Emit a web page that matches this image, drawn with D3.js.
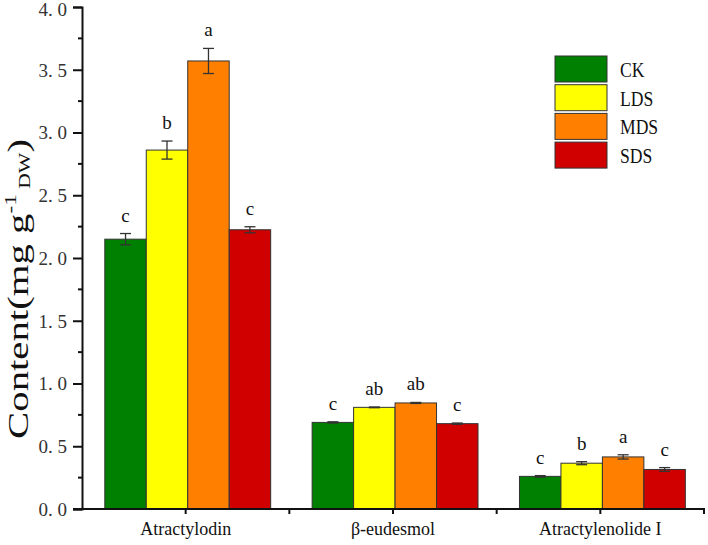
<!DOCTYPE html>
<html lang="en">
<head>
<meta charset="UTF-8">
<title>Content by treatment</title>
<script src="https://d3js.org/d3.v7.min.js"></script>
<style>
    body { margin: 0; padding: 0; background: #fff; }
    svg { display: block; }
    .tick-label { font-family: "Liberation Serif", serif; font-size: 19px; fill: #333; }
    .cat-label { font-family: "Liberation Serif", serif; font-size: 18px; fill: #111; }
    .sig { font-family: "Liberation Serif", serif; font-size: 19px; fill: #111; }
    .legend-text { font-family: "Liberation Serif", serif; font-size: 22px; fill: #111; }
    .y-title { font-family: "Liberation Serif", serif; font-size: 30px; fill: #111; }
</style>
</head>
<body>
<script>
    // data
    const categories = ["Atractylodin", "β-eudesmol", "Atractylenolide I"];
    const treatments = ["CK", "LDS", "MDS", "SDS"];
    const colors = ["#008000", "#ffff00", "#ff8000", "#d00000"];

    const CK = [2.15, 0.69, 0.26];
    const LDS = [2.86, 0.81, 0.365];
    const MDS = [3.57, 0.845, 0.415];
    const SDS = [2.225, 0.68, 0.315];

    const CKerr = [0.045, 0.005, 0.006];
    const LDSerr = [0.072, 0.003, 0.012];
    const MDSerr = [0.1, 0.004, 0.017];
    const SDSerr = [0.024, 0.005, 0.015];

    const CKsig = ["c", "c", "c"];
    const LDSsig = ["b", "ab", "b"];
    const MDSsig = ["a", "ab", "a"];
    const SDSsig = ["c", "c", "c"];

    const yTicks = [0, 0.5, 1.0, 1.5, 2.0, 2.5, 3.0, 3.5, 4.0];

    const values = [CK, LDS, MDS, SDS];
    const errors = [CKerr, LDSerr, MDSerr, SDSerr];
    const sigs = [CKsig, LDSsig, MDSsig, SDSsig];

    const W = 708, H = 545;
    const plot = { left: 82, right: 704, top: 7, bottom: 509 };

    const svg = d3.select("body").append("svg")
        .attr("width", W)
        .attr("height", H)
        .style("background", "#fff");

    const x = d3.scaleBand().domain(categories).range([plot.left, plot.right]).padding(0);
    const inner = d3.scaleBand().domain(treatments)
        .range([x.bandwidth() * 0.11, x.bandwidth() * 0.91]).padding(0);
    const y = d3.scaleLinear().domain([0, 4]).range([plot.bottom, plot.top]);
    const color = d3.scaleOrdinal().domain(treatments).range(colors);

    // flatten into rows
    const rows = [];
    treatments.forEach((t, i) => {
        categories.forEach((c, j) => {
            rows.push({ cat: c, trt: t, v: values[i][j], e: errors[i][j], s: sigs[i][j] });
        });
    });

    // bars
    svg.append("g").selectAll("rect")
        .data(rows)
        .join("rect")
        .attr("x", d => x(d.cat) + inner(d.trt))
        .attr("y", d => y(d.v))
        .attr("width", inner.bandwidth())
        .attr("height", d => y(0) - y(d.v))
        .attr("fill", d => color(d.trt))
        .attr("stroke", "#333")
        .attr("stroke-width", 1);

    // error bars
    const eb = svg.append("g").attr("stroke", "#333").attr("stroke-width", 1.3);
    rows.forEach(d => {
        const cx = x(d.cat) + inner(d.trt) + inner.bandwidth() / 2;
        eb.append("line").attr("x1", cx).attr("x2", cx).attr("y1", y(d.v + d.e)).attr("y2", y(d.v - d.e));
        eb.append("line").attr("x1", cx - 5.5).attr("x2", cx + 5.5).attr("y1", y(d.v + d.e)).attr("y2", y(d.v + d.e));
        eb.append("line").attr("x1", cx - 5.5).attr("x2", cx + 5.5).attr("y1", y(d.v - d.e)).attr("y2", y(d.v - d.e));
    });

    // significance letters
    svg.append("g").selectAll("text")
        .data(rows)
        .join("text")
        .attr("class", "sig")
        .attr("x", d => x(d.cat) + inner(d.trt) + inner.bandwidth() / 2)
        .attr("y", d => y(d.v + d.e) - 12)
        .attr("text-anchor", "middle")
        .text(d => d.s);

    // y axis, labels written like "4. 0"
    const yAxis = d3.axisLeft(y).tickValues(yTicks).tickSize(9)
        .tickFormat(d => d3.format(".1f")(d).replace(".", ". "));
    const gy = svg.append("g").attr("transform", `translate(${plot.left},0)`).call(yAxis);
    gy.attr("font-family", null).attr("font-size", null);
    gy.select(".domain").attr("stroke", "#111").attr("stroke-width", 2);
    gy.selectAll(".tick line").attr("stroke", "#111").attr("stroke-width", 2);
    gy.selectAll(".tick text").attr("class", "tick-label").attr("fill", null)
        .attr("x", -15).attr("dy", d => d === 4 ? "0.45em" : "0.34em")
        .style("white-space", "pre");
    const minor = d3.range(0.25, 4, 0.5);
    gy.selectAll(".minor").data(minor).join("line")
        .attr("class", "minor")
        .attr("x1", -4).attr("x2", 0)
        .attr("y1", d => y(d)).attr("y2", d => y(d))
        .attr("stroke", "#111").attr("stroke-width", 2);

    // x axis
    const gx = svg.append("g").attr("transform", `translate(0,${plot.bottom})`);
    gx.append("line").attr("x1", plot.left - 9).attr("x2", plot.right + 1).attr("y1", 0).attr("y2", 0)
        .attr("stroke", "#111").attr("stroke-width", 2);
    const xTickPos = [];
    categories.forEach(c => { xTickPos.push(x(c) + x.bandwidth() / 2); xTickPos.push(x(c) + x.bandwidth()); });
    gx.selectAll(".xt").data(xTickPos).join("line")
        .attr("class", "xt")
        .attr("x1", d => d).attr("x2", d => d)
        .attr("y1", 0).attr("y2", 5)
        .attr("stroke", "#111").attr("stroke-width", 2);
    gx.selectAll(".cat-label").data(categories).join("text")
        .attr("class", "cat-label")
        .attr("x", d => x(d) + x.bandwidth() / 2)
        .attr("y", 26)
        .attr("text-anchor", "middle")
        .text(d => d);

    // y title (stretched along its length like the original)
    const yt = svg.append("text")
        .attr("class", "y-title")
        .attr("transform", "translate(28,289) rotate(-90) scale(1.36,1)")
        .attr("text-anchor", "middle");
    yt.append("tspan").text("Content(mg g");
    yt.append("tspan").attr("font-size", 17).attr("dy", -12).text("-1");
    yt.append("tspan").attr("font-size", 16).attr("dy", 14).text(" DW");
    yt.append("tspan").attr("dy", -2).text(")");

    // legend
    const lg = svg.append("g").attr("transform", "translate(555,56)");
    const item = lg.selectAll("g").data(treatments).join("g")
        .attr("transform", (d, i) => `translate(0,${i * 28.7})`);
    item.append("rect")
        .attr("width", 52).attr("height", 26)
        .attr("fill", d => color(d))
        .attr("stroke", "#333").attr("stroke-width", 1);
    item.append("text")
        .attr("class", "legend-text")
        .attr("transform", "translate(65,21) scale(0.8,1)")
        .text(d => d);
</script>
</body>
</html>
